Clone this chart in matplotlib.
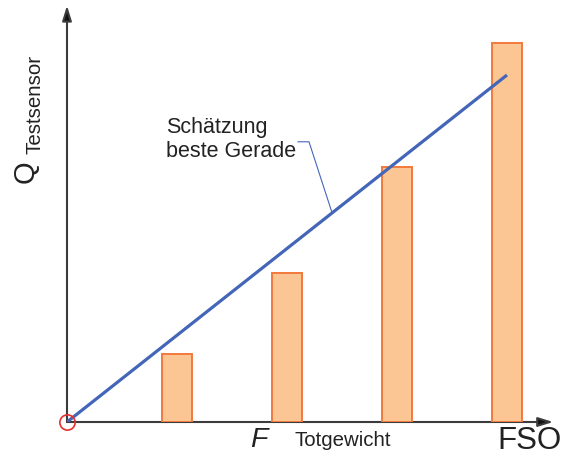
import matplotlib
matplotlib.use("Agg")
import matplotlib.pyplot as plt
import numpy as np

plt.rcParams['font.family'] = ['Liberation Sans', 'DejaVu Sans']

# load steps (x) and measured sensor output (bars)
steps = [1, 2, 3, 4]
q_meas = [0.78, 1.72, 2.94, 4.37]
# best straight line estimate through origin
fit_x = [0, 4]
fit_y = [0, 4]

W, H = 568, 457
fig = plt.figure(figsize=(W / 100, H / 100), dpi=100)
x0, y0 = 67, 422          # origin in pixels
sx, sy = 110.0, 86.75     # pixels per unit
xmax, ymax = 4.5, 4.8
ax = fig.add_axes([x0 / W, (H - y0) / H, xmax * sx / W, ymax * sy / H])
ax.set_xlim(0, xmax)
ax.set_ylim(0, ymax)
ax.axis('off')

ax.bar(steps, q_meas, width=0.28, color='#fbc694', edgecolor='#f2793c',
       linewidth=1.4, zorder=2)
ax.plot(fit_x, fit_y, color='#4466b8', lw=2.3, zorder=3, solid_capstyle='butt')

# axes with arrows
axcol = '#3c3c3c'
for tip in [(4.42, 0), (0, 4.8)]:
    ax.annotate('', xy=tip, xytext=(0, 0), annotation_clip=False,
                arrowprops=dict(arrowstyle='-|>,head_length=0.9,head_width=0.28',
                                color=axcol, fc='#111111', lw=1.5,
                                shrinkA=0, shrinkB=0), zorder=1)

# origin marker
ax.plot([0], [0], 'o', ms=11, mfc='none', mec='#e8302a', mew=1.2,
        clip_on=False, zorder=4)

# leader for annotation
ax.plot([2.1, 2.2, 2.41], [3.23, 3.23, 2.41], color='#4466b8', lw=0.8, zorder=3)
ax.text(0.9, 3.52, 'Schätzung\nbeste Gerade', fontsize=15.5, color='#222222',
        ha='left', va='top', linespacing=1.2)

# axis labels
fig.text(26 / W, 1 - 172 / H, 'Q', fontsize=21, rotation=90,
         ha='center', va='center', color='#222222')
fig.text(35 / W, 1 - 104 / H, 'Testsensor', fontsize=14.8, rotation=90,
         ha='center', va='center', color='#222222')
fig.text(259 / W, 1 - 440 / H, 'F', fontsize=20.5, style='italic',
         ha='center', va='center', color='#222222')
fig.text(343 / W, 1 - 440 / H, 'Totgewicht', fontsize=14.7,
         ha='center', va='center', color='#222222')
fig.text(529 / W, 1 - 441 / H, 'FSO', fontsize=22.5,
         ha='center', va='center', color='#222222')

fig.savefig('out.png', dpi=100)
